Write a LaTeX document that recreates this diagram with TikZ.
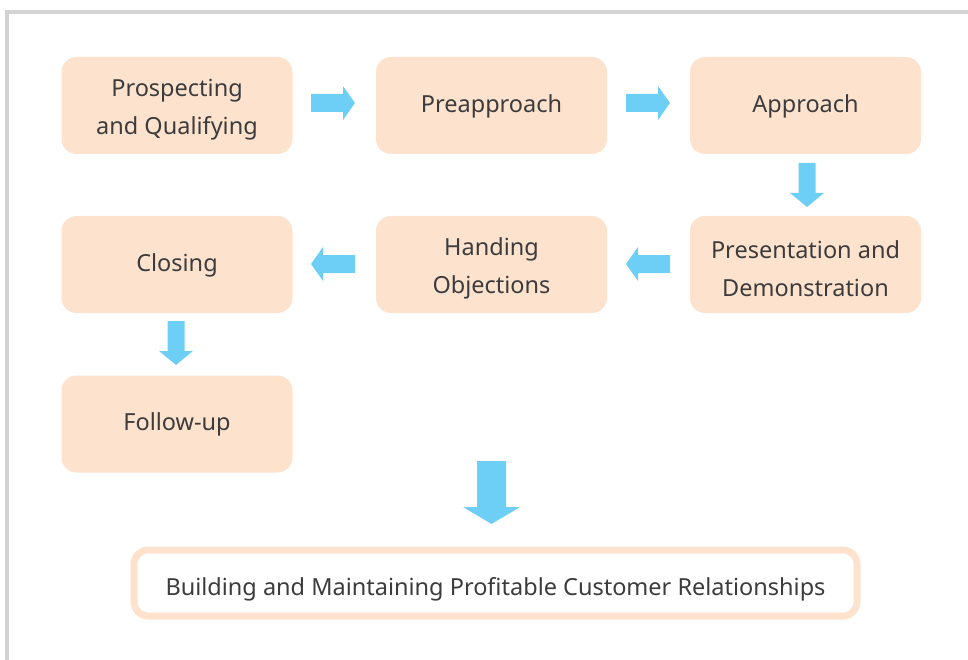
\documentclass[tikz,border=0pt]{standalone}
\usepackage{fontspec}
\setmainfont{Noto Sans}
\definecolor{peach}{HTML}{FDE2CE}
\definecolor{arrowblue}{HTML}{6DCFF6}
\definecolor{framegray}{HTML}{D3D3D3}
\definecolor{txt}{HTML}{3C3C3C}
\begin{document}
\begin{tikzpicture}[x=1pt,y=-1pt,
  stepshape/.style={fill=peach, rounded corners=15pt, minimum width=231pt, minimum height=97pt,
    inner sep=0pt},
  steptext/.style={align=center, text=txt, font=\fontsize{23.5}{38}\selectfont},
  stepbox/.style={stepshape, label={[steptext, yshift=-0.5pt]center:#1}},
  stepboxtwo/.style={stepshape, label={[steptext, yshift=-4pt]center:#1}},
  goalbox/.style={draw=peach, line width=7pt, fill=white, rounded corners=14pt,
    minimum width=723pt, minimum height=66pt, inner sep=0pt,
    label={[text=txt, yshift=-6.5pt, font=\fontsize{23.5}{30}\selectfont]center:#1}},
  blockarrow/.style={fill=arrowblue, draw=none}]
\useasboundingbox (0,0) rectangle (968,660);
% outer frame, open to the right and bottom
\fill[framegray] (5,10) rectangle (968,14);
\fill[framegray] (5,10) rectangle (9,660);

% steps of the selling process
\node[stepboxtwo={Prospecting\\and Qualifying}] (prosp) at (177,105.5) {};
\node[stepbox={Preapproach}] (preap) at (491.5,105.5) {};
\node[stepbox={Approach}] (appr) at (805.5,105.5) {};
\node[stepboxtwo={Presentation and\\Demonstration}] (pres) at (805.5,264.5) {};
\node[stepboxtwo={Handing\\Objections}] (objs) at (491.5,264.5) {};
\node[stepbox={Closing}] (clos) at (177,264.5) {};
\node[stepbox={Follow-up}] (foll) at (177,424) {};
\node[goalbox={Building and Maintaining Profitable Customer Relationships}] (goal) at (495.5,583) {};

% block arrows between the steps
\coordinate (r1) at (311,103);
\coordinate (r2) at (626,103);
\coordinate (d1) at (807,163);
\coordinate (l1) at (670,264);
\coordinate (l2) at (355,264);
\coordinate (d2) at (176,321);
\coordinate (d3) at (491.5,461);

\foreach \c in {r1,r2}
  \fill[blockarrow] (\c) ++(0,-9) -- ++(32,0) -- ++(0,-8) -- ++(12,17) -- ++(-12,17) -- ++(0,-8) -- ++(-32,0) -- cycle;
\foreach \c in {l1,l2}
  \fill[blockarrow] (\c) ++(0,-9) -- ++(-32,0) -- ++(0,-8) -- ++(-12,17) -- ++(12,17) -- ++(0,-8) -- ++(32,0) -- cycle;
\foreach \c in {d1,d2}
  \fill[blockarrow] (\c) ++(-8.5,0) -- ++(0,30) -- ++(-8.5,0) -- ++(17,14) -- ++(17,-14) -- ++(-8.5,0) -- ++(0,-30) -- cycle;
\fill[blockarrow] (d3) ++(-14.5,0) -- ++(0,46) -- ++(-14,0) -- ++(28.5,17) -- ++(28.5,-17) -- ++(-14,0) -- ++(0,-46) -- cycle;
\end{tikzpicture}
\end{document}
